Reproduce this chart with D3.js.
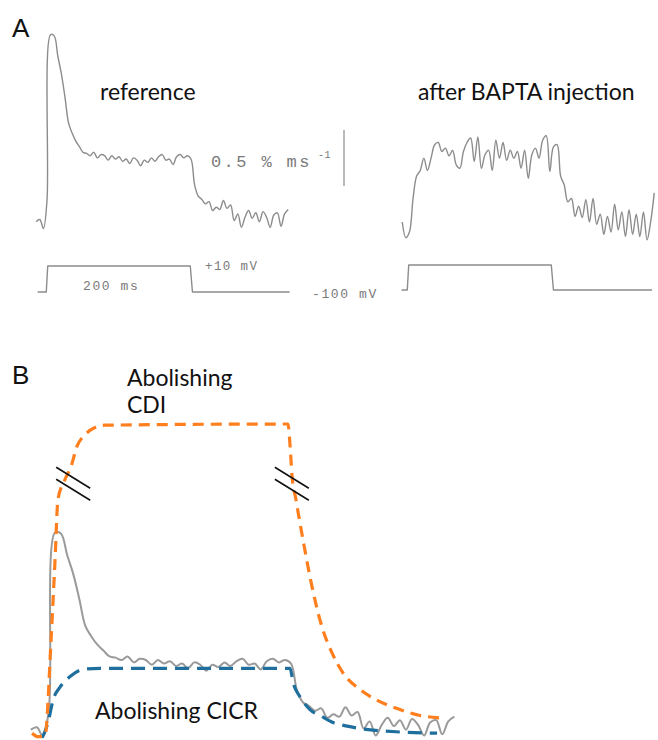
<!DOCTYPE html>
<html>
<head>
<meta charset="utf-8">
<script src="https://cdn.jsdelivr.net/npm/d3@7"></script>
<style>
  html, body { margin: 0; padding: 0; background: #fff; }
  svg { display: block; }
</style>
</head>
<body>
<svg id="chart" width="658" height="740"></svg>
<script>
// ---------------- DATA ----------------
// Panel A, reference Ca2+ release-rate trace (time in ms from pulse onset, rate in % per ms)
const refTime = [-15,-10,-5,0,5,10,15,20,25,30,35,40,45,50,55,60,65,70,75,80,85,90,95,100,105,110,115,120,125,130,135,140,145,150,155,160,165,170,175,180,185,190,195,200,205,210,215,220,225,230,235,240,245,250,255,260,265,270,275,280,285,290,295,300,305,310,315,320,325,330,335];
const refRate = [0.02,0.04,-0.04,0.21,1.69,1.68,1.50,1.34,1.13,0.90,0.81,0.74,0.69,0.64,0.63,0.61,0.64,0.59,0.62,0.61,0.57,0.61,0.58,0.60,0.56,0.58,0.54,0.59,0.57,0.52,0.57,0.55,0.59,0.56,0.60,0.62,0.57,0.58,0.53,0.60,0.62,0.59,0.61,0.58,0.35,0.25,0.22,0.18,0.20,0.12,0.15,0.13,0.21,0.14,0.17,0.03,0.09,-0.03,0.06,0.12,0.05,0.10,0.02,0.11,0.06,-0.03,0.08,0.10,-0.02,0.09,0.13];

// Panel A, after BAPTA injection
const baptaTime = [-8,-3,2,7,12,17,22,27,32,37,42,47,52,57,62,67,72,77,82,87,92,97,102,107,112,117,122,127,132,137,142,147,152,157,162,167,172,177,182,187,192,197,202,207,212,217,222,227,232,237,242,247,252,257,262,267,272,277,282,287,292,297,302,307,312,317,322,327,332,337,342];
const baptaRate = [0,-0.14,-0.09,0.21,0.41,0.46,0.57,0.46,0.57,0.69,0.71,0.63,0.66,0.59,0.64,0.51,0.48,0.63,0.71,0.75,0.54,0.76,0.48,0.60,0.64,0.46,0.73,0.57,0.71,0.55,0.64,0.57,0.63,0.48,0.64,0.39,0.60,0.66,0.57,0.73,0.77,0.45,0.67,0.69,0.41,0.33,0.18,0.21,0.05,0.14,0.04,0.20,0.00,0.21,-0.02,0.07,-0.11,0.05,-0.09,0.16,-0.07,0.09,-0.13,0.11,-0.11,0.07,-0.13,0.09,-0.16,0.00,0.26];

// Voltage pulse protocol (mV)
const stepRefTime   = [-13,-1,1,199,202,337];
const stepBaptaTime = [-9,-1,1,199,202,339];
const stepVoltage   = [-100,-100,10,10,-100,-100];

// Panel B, model curves (time in ms, rate in same units as the reference trace)
const cdiTime = [-14,-9,-3.3,1.7,5.0,7.4,13.2,18.2,23.1,29.8,38.0,46.3,197.5,199.2,200.8,204.1,209.9,217.4,225.6,233.9,243,257,271,290,306.6,323];
const cdiRate = [-0.01,-0.04,-0.03,0.78,1.46,1.97,2.14,2.25,2.42,2.52,2.58,2.60,2.61,2.43,2.18,1.97,1.63,1.23,0.89,0.67,0.50,0.36,0.27,0.19,0.14,0.12];
const cicrTime = [-5.8,-0.8,3.3,9.1,17.4,28.1,42.1,199.2,201.7,207.4,215.7,225.6,234.7,246.3,257,290,320.7];
const cicrRate = [-0.05,0.08,0.27,0.38,0.47,0.53,0.54,0.54,0.42,0.30,0.19,0.13,0.08,0.05,0.03,0.00,-0.01];

// Labels
const panelLabels = ["A", "B"];
const traceTitles = ["reference", "after BAPTA injection"];
const scaleLabel = "0.5 % ms";
const scaleExp = "-1";
const scaleValue = 0.5;
const pulseLabels = ["200 ms", "+10 mV", "-100 mV"];
const cdiLabel = ["Abolishing", "CDI"];
const cicrLabel = "Abolishing CICR";

// ---------------- DRAW ----------------
const svg = d3.select("#chart");
const sans = "Lato, 'Open Sans', sans-serif";
const mono = "'Liberation Mono', 'DejaVu Sans Mono', monospace";
const traceGray = "#8c8c8c";

// Panel A scales
const xRef = d3.scaleLinear().domain([0, 200]).range([47, 191]);
const yRef = d3.scaleLinear().domain([0, 0.5]).range([224, 168]);
const vRef = d3.scaleLinear().domain([-100, 10]).range([292, 266]);

const xBap = d3.scaleLinear().domain([0, 200]).range([408, 552]);
const yBap = d3.scaleLinear().domain([0, 0.5]).range([222, 166]);
const vBap = d3.scaleLinear().domain([-100, 10]).range([290, 265]);

// Panel B scales
const xB = d3.scaleLinear().domain([0, 200]).range([49, 291]);
const yB = d3.scaleLinear().domain([0, 1]).range([732, 614]);

function drawLine(times, vals, xs, ys, attrs, curve) {
  const data = times.map((t, i) => [t, vals[i]]);
  const line = d3.line().x(d => xs(d[0])).y(d => ys(d[1])).curve(curve || d3.curveLinear);
  const p = svg.append("path").datum(data).attr("d", line).attr("fill", "none");
  Object.entries(attrs).forEach(([k, v]) => p.attr(k, v));
  return p;
}

const smooth = d3.curveCatmullRom.alpha(0.5);

// ----- Panel A -----
svg.append("text").attr("x", 12).attr("y", 37).text(panelLabels[0])
  .attr("font-family", "'Liberation Sans', Arial, sans-serif").attr("font-size", 26).attr("fill", "#111");

svg.append("text").attr("x", 100).attr("y", 100).text(traceTitles[0])
  .attr("font-family", sans).attr("font-size", 23).attr("fill", "#111");
svg.append("text").attr("x", 418).attr("y", 100).text(traceTitles[1])
  .attr("font-family", sans).attr("font-size", 23).attr("fill", "#111");

const grayAttrs = { stroke: traceGray, "stroke-width": 1.4, "stroke-linejoin": "round" };
drawLine(refTime, refRate, xRef, yRef, grayAttrs, smooth);
drawLine(baptaTime, baptaRate, xBap, yBap, grayAttrs, smooth);
drawLine(stepRefTime, stepVoltage, xRef, vRef, grayAttrs);
drawLine(stepBaptaTime, stepVoltage, xBap, vBap, grayAttrs);

// scale bar (0.5 % per ms)
svg.append("line")
  .attr("x1", 344).attr("x2", 344)
  .attr("y1", yRef(0.34)).attr("y2", yRef(0.34 + scaleValue))
  .attr("stroke", traceGray).attr("stroke-width", 1.2);

const typeAttrs = (sel, size, ls) => sel.attr("font-family", mono).attr("font-size", size)
  .attr("fill", "#7a7a7a").attr("letter-spacing", ls);

typeAttrs(svg.append("text").attr("x", 211).attr("y", 167).text(scaleLabel), 17, 2.4);
typeAttrs(svg.append("text").attr("x", 318).attr("y", 158).text(scaleExp), 10, 0.5);
typeAttrs(svg.append("text").attr("x", 83).attr("y", 290).text(pulseLabels[0]), 13, 1.6);
typeAttrs(svg.append("text").attr("x", 205).attr("y", 270).text(pulseLabels[1]), 12.5, 1.4);
typeAttrs(svg.append("text").attr("x", 312).attr("y", 298).text(pulseLabels[2]), 13, 1.6);

// ----- Panel B -----
svg.append("text").attr("x", 12).attr("y", 384).text(panelLabels[1])
  .attr("font-family", "'Liberation Sans', Arial, sans-serif").attr("font-size", 26).attr("fill", "#111");

svg.append("text").attr("x", 127).attr("y", 386).text(cdiLabel[0])
  .attr("font-family", sans).attr("font-size", 23).attr("fill", "#111");
svg.append("text").attr("x", 127).attr("y", 413).text(cdiLabel[1])
  .attr("font-family", sans).attr("font-size", 23).attr("fill", "#111");
svg.append("text").attr("x", 95).attr("y", 719).text(cicrLabel)
  .attr("font-family", sans).attr("font-size", 23).attr("fill", "#111");

// gray measured trace
drawLine(refTime, refRate, xB, yB, { stroke: "#9a9a9a", "stroke-width": 2, "stroke-linejoin": "round" }, smooth);

// CICR (blue dashed)
drawLine(cicrTime, cicrRate, xB, yB,
  { stroke: "#1f6f9e", "stroke-width": 3.2, "stroke-dasharray": "14,8" }, d3.curveMonotoneX);

// CDI (orange dashed)
drawLine(cdiTime, cdiRate, xB, yB,
  { stroke: "#ff7f1e", "stroke-width": 3.2, "stroke-dasharray": "11,7" }, d3.curveMonotoneX);

// axis break marks at the points where the CDI curve crosses them
const breaks = [[20, 2.1], [200.7, 2.1]];
breaks.forEach(([t, v]) => {
  const cx = xB(t), cy = yB(v);
  [-6, 6].forEach(off => {
    svg.append("line")
      .attr("x1", cx - 17).attr("y1", cy + off - 11)
      .attr("x2", cx + 17).attr("y2", cy + off + 10)
      .attr("stroke", "#111").attr("stroke-width", 1.6);
  });
});
</script>
</body>
</html>
